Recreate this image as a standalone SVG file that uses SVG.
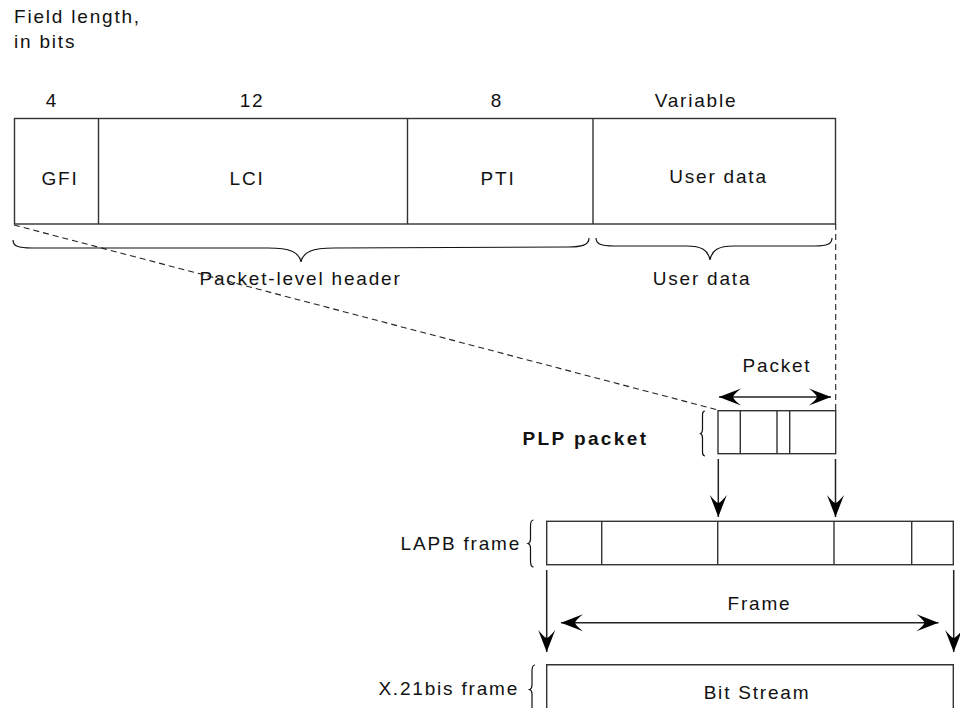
<svg xmlns="http://www.w3.org/2000/svg" width="960" height="708" viewBox="0 0 960 708">
<defs>
<style>
text{font-family:"Liberation Sans",Arial,sans-serif;font-size:19px;letter-spacing:1.8px;fill:#111}
.c{text-anchor:middle}
.e{text-anchor:end}
.b{font-weight:bold;letter-spacing:2.4px}
.box{fill:#fff;stroke:#333;stroke-width:1.4}
.div{stroke:#333;stroke-width:1.4;fill:none}
.br{fill:none;stroke:#111;stroke-width:1.2}
.dash{fill:none;stroke:#222;stroke-width:1.1;stroke-dasharray:6,4}
.ar{fill:none;stroke:#222;stroke-width:1.5}
</style>
<marker id="ah" viewBox="-23 -10 24 20" refX="0" refY="0" markerWidth="24" markerHeight="20" markerUnits="userSpaceOnUse" orient="auto-start-reverse">
<path d="M0,0 L-22,-8.5 Q-15,-3 -14,0 Q-15,3 -22,8.5 Z" fill="#000"/>
</marker>
</defs>
<rect width="960" height="708" fill="#fff"/>

<g id="caption">
<text x="14" y="23">Field length,</text>
<text x="14" y="48">in bits</text>
</g>

<g id="field-lengths">
<text class="c" x="52" y="106.5">4</text>
<text class="c" x="252" y="106.5">12</text>
<text class="c" x="497" y="106.5">8</text>
<text class="c" x="696" y="106.5">Variable</text>
</g>

<g id="packet-format">
<rect class="box" x="14.5" y="118.5" width="821" height="105.5"/>
<path class="div" d="M98.5,118.5V224 M407.5,118.5V224 M593,118.5V224"/>
<text class="c" x="60" y="185">GFI</text>
<text class="c" x="247" y="185">LCI</text>
<text class="c" x="498" y="185">PTI</text>
<text class="c" x="718.5" y="183">User data</text>
</g>

<g id="header-brace">
<path class="br" d="M13,240 C13,246 18,248 32,248 L268,248 C290,248 299,252 301,262 C303,252 312,248 334,248 L568,247 C582,247 589,245 589,238"/>
<text class="c" x="300.5" y="285">Packet-level header</text>
</g>

<g id="userdata-brace">
<path class="br" d="M596,238 C596,244 601,246 614,246 L686,246 C702,246 708,250 710,260 C712,250 718,246 734,246 L815,246 C827,246 832,244 832,238"/>
<text class="c" x="702" y="285">User data</text>
</g>

<g id="plp-packet">
<rect class="box" x="718" y="410.7" width="117.7" height="43"/>
<path class="div" d="M740.3,410.7V453.7 M777,410.7V453.7 M789.7,410.7V453.7"/>
<path class="br" d="M705,411 C702.5,411 702.5,413 702.5,416 L702.5,429 C702.5,432 701.5,433 700.5,433.5 C701.5,434 702.5,435 702.5,438 L702.5,451 C702.5,454 702.5,456 705,456"/>
<text class="e b" x="648.5" y="444.5">PLP packet</text>
</g>

<g id="lapb-frame">
<rect class="box" x="546.7" y="521.3" width="406.6" height="43.4"/>
<path class="div" d="M601.7,521.3V564.7 M717.7,521.3V564.7 M834,521.3V564.7 M911.7,521.3V564.7"/>
<path class="br" d="M533.5,520 C531,520 530.5,522 530.5,526 L530.5,539 C530.5,542 529.5,543 528,543.5 C529.5,544 530.5,545 530.5,548 L530.5,561 C530.5,565 531,567 533.5,567"/>
<text class="e" x="521" y="550">LAPB frame</text>
</g>

<g id="x21bis-frame">
<path class="box" d="M546.7,720 V664.7 H953.3 V720"/>
<path class="br" d="M535,665 C532.5,665 532,667 532,671 L532,685 C532,688 531,689 529.5,689.5 C531,690 532,691 532,694 L532,708 C532,712 532.5,714 535,714"/>
<text class="e" x="519" y="695">X.21bis frame</text>
<text class="c" x="757" y="699">Bit Stream</text>
</g>

<g id="connectors">
<path class="dash" d="M14,225 L718,410"/>
<path class="dash" d="M835.7,224 V410"/>
<path class="ar" d="M719,397 H831" marker-start="url(#ah)" marker-end="url(#ah)"/>
<path class="ar" d="M718.3,459 V517" marker-end="url(#ah)"/>
<path class="ar" d="M835.5,459 V517" marker-end="url(#ah)"/>
<path class="ar" d="M546.7,570 V652" marker-end="url(#ah)"/>
<path class="ar" d="M953.7,570 V652" marker-end="url(#ah)"/>
<path class="ar" d="M561,622.7 H938.5" marker-start="url(#ah)" marker-end="url(#ah)"/>
</g>

<g id="labels">
<text class="c" x="777" y="372">Packet</text>
<text class="c" x="759.5" y="610">Frame</text>
</g>
</svg>
